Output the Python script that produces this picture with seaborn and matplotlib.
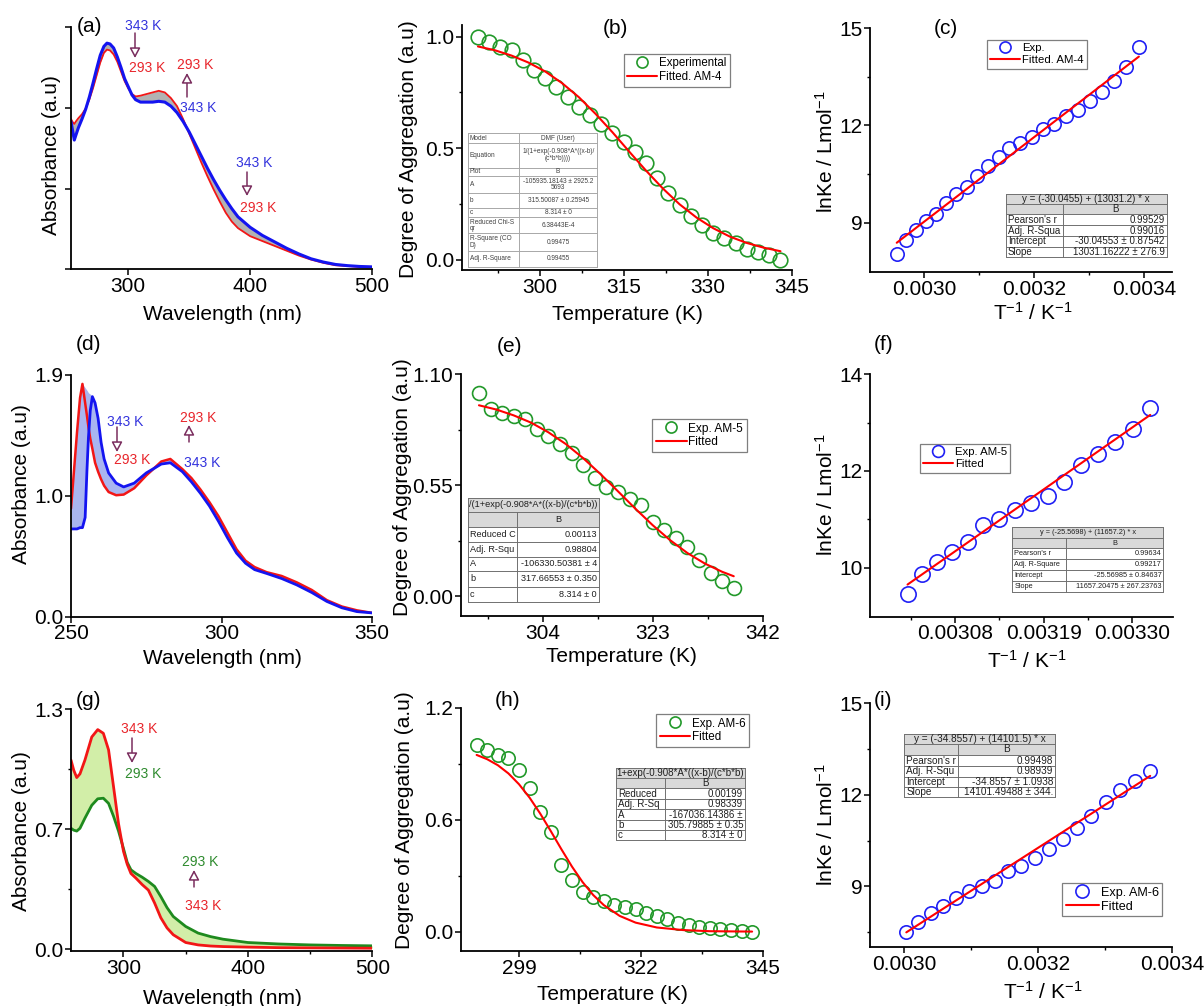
import numpy as np
import matplotlib.pyplot as plt
import seaborn as sns
from matplotlib.patches import Rectangle, FancyArrowPatch
from matplotlib.lines import Line2D

W, H = 1204, 1006

## (a) AM-4 spectra, 293 K (red) and 343 K (blue)
wl_a = [253, 254.5, 255.7, 257, 259, 262, 265, 268, 271, 274, 277, 280, 282.5, 285, 288, 291, 294, 297,
        300, 303, 306, 310, 315, 320, 325, 330, 335, 340, 345, 350, 355, 360, 365, 370, 375, 380, 385, 390,
        400, 410, 420, 430, 440, 450, 460, 470, 480, 490, 500]
abs_a_293 = [1.86, 1.82, 1.80, 1.83, 1.87, 1.92, 1.99, 2.10, 2.24, 2.40, 2.56, 2.68, 2.72, 2.71, 2.66, 2.57, 2.45, 2.33,
             2.24, 2.17, 2.14, 2.15, 2.17, 2.19, 2.21, 2.19, 2.12, 2.02, 1.86, 1.68, 1.50, 1.32, 1.15, 0.99, 0.84, 0.70, 0.59, 0.51,
             0.41, 0.35, 0.29, 0.23, 0.17, 0.12, 0.08, 0.05, 0.04, 0.03, 0.03]
abs_a_343 = [1.83, 1.70, 1.60, 1.66, 1.75, 1.86, 1.98, 2.13, 2.30, 2.48, 2.65, 2.76, 2.80, 2.79, 2.74, 2.63, 2.50, 2.36,
             2.26, 2.16, 2.10, 2.07, 2.07, 2.07, 2.08, 2.07, 2.02, 1.94, 1.83, 1.70, 1.55, 1.40, 1.25, 1.11, 0.98, 0.86, 0.75, 0.65,
             0.52, 0.42, 0.34, 0.26, 0.19, 0.13, 0.09, 0.06, 0.045, 0.035, 0.03]

## (d) AM-5 spectra
wl_d = [250, 251, 252, 253, 253.8, 254.7, 255.3, 255.8, 256.4, 257.1, 258, 259, 260, 261, 262.5, 265, 267.5, 271, 275,
        280, 283, 287, 290, 293, 296, 299, 302, 305, 308, 311, 315, 320, 325, 330, 335, 340, 345, 350]
abs_d_293 = [0.85, 1.15, 1.45, 1.72, 1.83, 1.68, 1.58, 1.49, 1.40, 1.32, 1.21, 1.14, 1.08, 1.03, 0.98, 0.955, 0.96, 1.01, 1.11,
             1.22, 1.24, 1.16, 1.09, 1.00, 0.90, 0.79, 0.66, 0.53, 0.44, 0.39, 0.35, 0.32, 0.27, 0.21, 0.13, 0.08, 0.05, 0.03]
abs_d_343 = [0.69, 0.69, 0.69, 0.70, 0.70, 0.78, 1.15, 1.41, 1.62, 1.73, 1.68, 1.56, 1.37, 1.24, 1.13, 1.05, 1.02, 1.05, 1.13,
             1.20, 1.21, 1.14, 1.06, 0.97, 0.87, 0.75, 0.62, 0.50, 0.42, 0.37, 0.34, 0.30, 0.25, 0.19, 0.12, 0.07, 0.04, 0.03]
# top of the band of intermediate curves between the two peaks
peak_wl_d = [253.8, 254.7, 255.3, 255.8, 256.4, 257.1]
peak_top_d = [1.83, 1.80, 1.78, 1.76, 1.75, 1.73]

## (g) AM-6 spectra, 343 K (red) and 293 K (green)
wl_g = [257.8, 260, 262.4, 265, 269, 274.5, 279.3, 283.8, 288, 292, 296, 300, 303, 306, 310, 315, 320, 325, 330, 335,
        340, 350, 360, 370, 380, 400, 425, 450, 475, 500]
abs_g_343 = [1.025, 0.97, 0.93, 0.95, 1.025, 1.15, 1.19, 1.17, 1.08, 0.88, 0.68, 0.53, 0.46, 0.41, 0.385, 0.35, 0.32, 0.25,
             0.17, 0.115, 0.078, 0.036, 0.023, 0.017, 0.014, 0.011, 0.008, 0.007, 0.006, 0.005]
abs_g_293 = [0.655, 0.645, 0.64, 0.655, 0.71, 0.78, 0.815, 0.818, 0.79, 0.72, 0.64, 0.545, 0.47, 0.43, 0.41, 0.39, 0.367,
             0.34, 0.285, 0.225, 0.177, 0.123, 0.087, 0.068, 0.054, 0.036, 0.028, 0.023, 0.02, 0.018]

## (b) degree of aggregation AM-4
T_b = list(range(289, 344, 2))
alpha_b = [1.0, 0.975, 0.955, 0.94, 0.895, 0.85, 0.815, 0.775, 0.73, 0.685, 0.65, 0.61, 0.57, 0.53, 0.485, 0.435,
           0.365, 0.30, 0.245, 0.195, 0.155, 0.12, 0.10, 0.075, 0.05, 0.035, 0.02, 0.0]
fit_b_T = [289, 292, 295, 298, 301, 304, 307, 310, 313, 316, 319, 322, 325, 328, 331, 334, 337, 340, 343]
fit_b = [0.956, 0.939, 0.915, 0.884, 0.844, 0.792, 0.729, 0.654, 0.572, 0.485, 0.400, 0.320, 0.249, 0.190, 0.142,
         0.104, 0.076, 0.055, 0.039]

## (e) AM-5
T_e = list(range(293, 338, 2))
alpha_e = [1.004, 0.925, 0.905, 0.892, 0.875, 0.826, 0.793, 0.753, 0.707, 0.649, 0.583, 0.542, 0.514, 0.479, 0.451,
           0.368, 0.327, 0.286, 0.241, 0.178, 0.112, 0.076, 0.041]
fit_e_T = [293, 296, 299, 302, 305, 308, 311, 314, 317, 320, 323, 326, 329, 332, 335, 337]
fit_e = [0.945, 0.924, 0.895, 0.859, 0.811, 0.753, 0.683, 0.604, 0.519, 0.433, 0.351, 0.277, 0.213, 0.161, 0.120, 0.098]

## (h) AM-6
T_h = list(range(291, 344, 2))
alpha_h = [1.0, 0.973, 0.946, 0.929, 0.866, 0.768, 0.643, 0.536, 0.357, 0.277, 0.214, 0.188, 0.166, 0.143, 0.134,
           0.120, 0.098, 0.084, 0.066, 0.048, 0.036, 0.027, 0.018, 0.0125, 0.009, 0.005, 0.0]
fit_h_T = [291, 293, 295, 297, 299, 301, 303, 305, 307, 309, 311, 313, 315, 318, 321, 325, 330, 335, 343]
fit_h = [0.947, 0.924, 0.892, 0.848, 0.790, 0.718, 0.633, 0.539, 0.442, 0.349, 0.266, 0.197, 0.143, 0.085, 0.049,
         0.023, 0.009, 0.003, 0.001]

## (c), (f), (i) van't Hoff plots, x = 1/T
T_c = list(range(339, 294, -2))
lnK_c = [8.03, 8.47, 8.79, 9.05, 9.27, 9.60, 9.88, 10.11, 10.45, 10.76, 11.04, 11.30, 11.45, 11.65, 11.88, 12.03,
         12.29, 12.49, 12.75, 13.03, 13.36, 13.79, 14.40]
fit_c_T = [339, 295]
fit_c = [8.39, 14.12]

T_f = list(range(331, 300, -2))
lnK_f = [9.455, 9.862, 10.124, 10.331, 10.538, 10.883, 11.0, 11.193, 11.345, 11.483, 11.779, 12.124, 12.352, 12.593,
         12.876, 13.297]
fit_f_T = [331, 301]
fit_f = [9.65, 13.16]

T_i = list(range(333, 296, -2))
lnK_i = [7.486, 7.815, 8.12, 8.36, 8.62, 8.86, 9.02, 9.19, 9.49, 9.66, 9.93, 10.23, 10.56, 10.92, 11.30, 11.76,
         12.15, 12.46, 12.78]
fit_i_T = [333, 297]
fit_i = [7.49, 12.62]

## fit report tables
tab_b = [("Model", "DMF (User)"), ("Equation", "1/(1+exp(-0.908*A*((x-b)/\n(c*b*b))))"), ("Plot", "B"),
         ("A", "-105935.18143 ± 2925.2\n5693"), ("b", "315.50087 ± 0.25945"), ("c", "8.314 ± 0"),
         ("Reduced Chi-S\nqr", "6.38443E-4"), ("R-Square (CO\nD)", "0.99475"), ("Adj. R-Square", "0.99455")]
tab_c = ["y = (-30.0455) + (13031.2) * x", ("", "B"), ("Pearson's r", "0.99529"), ("Adj. R-Squa", "0.99016"),
         ("Intercept", "-30.04553 ± 0.87542"), ("Slope", "13031.16222 ± 276.9")]
tab_e = ["/(1+exp(-0.908*A*((x-b)/(c*b*b))", ("", "B"), ("Reduced C", "0.00113"), ("Adj. R-Squ", "0.98804"),
         ("A", "-106330.50381 ± 4"), ("b", "317.66553 ± 0.350"), ("c", "8.314 ± 0")]
tab_f = ["y = (-25.5698) + (11657.2) * x", ("", "B"), ("Pearson's r", "0.99634"), ("Adj. R-Square", "0.99217"),
         ("Intercept", "-25.56985 ± 0.84637"), ("Slope", "11657.20475 ± 267.23763")]
tab_h = ["1+exp(-0.908*A*((x-b)/(c*b*b)", ("", "B"), ("Reduced", "0.00199"), ("Adj. R-Sq", "0.98339"),
         ("A", "-167036.14386 ±"), ("b", "305.79885 ± 0.35"), ("c", "8.314 ± 0")]
tab_i = ["y = (-34.8557) + (14101.5) * x", ("", "B"), ("Pearson's r", "0.99498"), ("Adj. R-Squ", "0.98939"),
         ("Intercept", "-34.8557 ± 1.0938"), ("Slope", "14101.49488 ± 344.")]

BLUE = "#1414f0"
RED = "#f21616"
GREEN_LINE = "#1e8a1e"
CIRC_GREEN = "#22992a"
CIRC_BLUE = "#2020f5"
ARROW = "#7a2d5e"
TXT_BLUE = "#3333dd"
TXT_RED = "#e8252b"
TXT_GREEN = "#2e8b2e"

sns.set_theme(style="ticks")
plt.rcParams["font.family"] = ["Liberation Sans", "DejaVu Sans"]
plt.rcParams["mathtext.fontset"] = "custom"
plt.rcParams["mathtext.rm"] = "Liberation Sans"
plt.rcParams["mathtext.default"] = "rm"
for k in ["axes.edgecolor", "axes.labelcolor", "xtick.color", "ytick.color", "text.color"]:
    plt.rcParams[k] = "black"

fig = plt.figure(figsize=(W / 100, H / 100), dpi=100)


def fx(x):
    return x / W


def fy(y):
    return 1 - y / H


def add_panel(box):
    x0, y0, x1, y1 = box
    ax = fig.add_axes([x0 / W, 1 - y1 / H, (x1 - x0) / W, (y1 - y0) / H])
    ax.patch.set_alpha(0)
    return ax


def finish(ax, box, xlim, ylim, xl, xpos, yl, ypos):
    x0, y0, x1, y1 = box
    ax.set_xlim(xlim)
    ax.set_ylim(ylim)
    sns.despine(ax=ax)
    for s in ["left", "bottom"]:
        ax.spines[s].set_linewidth(1.3)
    ax.tick_params(which="major", direction="out", length=4, width=1.1, labelsize=15, pad=1.5)
    ax.tick_params(which="minor", direction="out", length=2.5, width=1.0)
    ax.set_xlabel(xl, fontsize=15)
    ax.set_ylabel(yl, fontsize=15)
    ax.xaxis.set_label_coords((xpos[0] - x0) / (x1 - x0), (y1 - xpos[1]) / (y1 - y0))
    ax.xaxis.label.set_va("center")
    ax.yaxis.set_label_coords((ypos[0] - x0) / (x1 - x0), (y1 - ypos[1]) / (y1 - y0))
    ax.yaxis.label.set_va("center")
    ax.yaxis.label.set_ha("center")


def add_legend(ax, labels, pos, fs, ms):
    handles = ax.lines[:2]
    leg = ax.legend(handles, labels, loc="upper left", bbox_to_anchor=(fx(pos[0]), fy(pos[1])),
                    bbox_transform=fig.transFigure, fontsize=fs, frameon=True, fancybox=False,
                    framealpha=1, edgecolor="#7f7f7f", borderpad=0.3, borderaxespad=0,
                    handlelength=2.6, handletextpad=0.15, labelspacing=0.15, numpoints=1)
    leg.get_frame().set_linewidth(0.9)
    leg.legend_handles[0].set_markersize(ms)


def panel_label(s, x, y):
    fig.text(fx(x), fy(y), s, fontsize=15, ha="center", va="center")


def note(x, y, s, col):
    fig.text(fx(x), fy(y), s, fontsize=10, color=col, ha="center", va="center")


def arrow(x, ya, yb):
    fig.add_artist(FancyArrowPatch((fx(x), fy(ya)), (fx(x), fy(yb)), transform=fig.transFigure,
                                   arrowstyle="-|>,head_length=0.6,head_width=0.32", mutation_scale=10,
                                   fc="white", ec=ARROW, lw=1.1, shrinkA=0, shrinkB=0))


def fline(xs, ys, col, lw):
    fig.add_artist(Line2D([fx(v) for v in xs], [fy(v) for v in ys], transform=fig.transFigure,
                          color=col, lw=lw))


def draw_table(box, split, rows_y, cells, fs, shade=(), line_col="#707070", right="right", tcol="#202020"):
    x0, y0, x1, y1 = box
    fig.add_artist(Rectangle((fx(x0), fy(y1)), (x1 - x0) / W, (y1 - y0) / H, transform=fig.transFigure,
                             fc="white", ec="none"))
    for i in shade:
        fig.add_artist(Rectangle((fx(x0), fy(rows_y[i + 1])), (x1 - x0) / W, (rows_y[i + 1] - rows_y[i]) / H,
                                 transform=fig.transFigure, fc="#d9d9d9", ec="none"))
    for yv in rows_y:
        fline([x0, x1], [yv, yv], line_col, 0.7)
    fline([x0, x0], [y0, y1], line_col, 0.7)
    fline([x1, x1], [y0, y1], line_col, 0.7)
    for i, c in enumerate(cells):
        ya, yb = rows_y[i], rows_y[i + 1]
        ym = fy((ya + yb) / 2)
        if isinstance(c, str):
            fig.text(fx((x0 + x1) / 2), ym, c, fontsize=fs, ha="center", va="center", color=tcol)
            continue
        fline([split, split], [ya, yb], line_col, 0.7)
        fig.text(fx(x0 + 2), ym, c[0], fontsize=fs, ha="left", va="center", color=tcol, linespacing=0.9)
        if c[1] == "B" or right == "center":
            fig.text(fx((split + x1) / 2), ym, c[1], fontsize=fs, ha="center", va="center", color=tcol,
                     linespacing=0.9)
        else:
            fig.text(fx(x1 - 2), ym, c[1], fontsize=fs, ha="right", va="center", color=tcol, linespacing=0.9)


ylab_abs = "Absorbance (a.u)"
ylab_dag = "Degree of Aggregation (a.u)"
ylab_k = r"lnKe / Lmol$^{-1}$"
xlab_wl = "Wavelength (nm)"
xlab_T = "Temperature (K)"
xlab_inv = r"T$^{-1}$ / K$^{-1}$"

# ---------------- (a) ----------------
box = (71, 27, 372, 269.3)
ax = add_panel(box)
ra, ba = np.array(abs_a_293), np.array(abs_a_343)
ax.fill_between(wl_a, np.minimum(ra, ba), np.maximum(ra, ba), color="#b2b2b2", lw=0)
sns.lineplot(x=wl_a, y=abs_a_293, ax=ax, color=RED, lw=1.3, errorbar=None)
sns.lineplot(x=wl_a, y=abs_a_343, ax=ax, color=BLUE, lw=2.2, errorbar=None)
ax.set_xticks([300, 400, 500])
ax.set_yticks([0, 1, 2, 3], ["", "", "", ""])
finish(ax, box, (253, 500), (0, 3), xlab_wl, (222, 315), ylab_abs, (52, 155))
panel_label("(a)", 90, 27)
note(143, 26, "343 K", TXT_BLUE)
note(147, 68, "293 K", TXT_RED)
note(195, 65, "293 K", TXT_RED)
note(198, 108, "343 K", TXT_BLUE)
note(254, 163, "343 K", TXT_BLUE)
note(258, 208, "293 K", TXT_RED)
arrow(135, 33, 58)
arrow(187, 97, 73)
arrow(247, 172, 196)

# ---------------- (d) ----------------
box = (71, 375, 372, 616.7)
ax = add_panel(box)
rd, bd = np.array(abs_d_293), np.array(abs_d_343)
top_d = np.maximum(rd, bd)
for w, v in zip(peak_wl_d, peak_top_d):
    idx = wl_d.index(w)
    top_d[idx] = max(top_d[idx], v)
ax.fill_between(wl_d, np.minimum(rd, bd), top_d, color="#a9b5f0", lw=0)
sns.lineplot(x=wl_d, y=abs_d_293, ax=ax, color=RED, lw=1.8, errorbar=None)
sns.lineplot(x=wl_d, y=abs_d_343, ax=ax, color=BLUE, lw=2.0, errorbar=None)
ax.set_xticks([250, 300, 350])
ax.set_yticks([0, 0.95, 1.9], ["0.0", "1.0", "1.9"])
finish(ax, box, (250, 350), (0, 1.9), xlab_wl, (222, 659), ylab_abs, (22, 484))
panel_label("(d)", 88, 345)
note(125, 422, "343 K", TXT_BLUE)
note(132, 460, "293 K", TXT_RED)
note(198, 418, "293 K", TXT_RED)
note(202, 463, "343 K", TXT_BLUE)
arrow(117, 427, 452)
arrow(189, 442, 425)

# ---------------- (g) ----------------
box = (71, 709.3, 372.3, 951)
ax = add_panel(box)
rg, gg = np.array(abs_g_343), np.array(abs_g_293)
ax.fill_between(wl_g, np.minimum(rg, gg), np.maximum(rg, gg), color="#d2eea8", lw=0)
sns.lineplot(x=wl_g, y=abs_g_293, ax=ax, color=GREEN_LINE, lw=2.0, errorbar=None)
sns.lineplot(x=wl_g, y=abs_g_343, ax=ax, color=RED, lw=2.0, errorbar=None)
ax.set_xticks([300, 400, 500])
ax.set_xticks([350, 450], minor=True)
ax.set_yticks([0, 0.65, 1.3], ["0.0", "0.7", "1.3"])
ax.set_yticks([0.325, 0.975], minor=True)
finish(ax, box, (257.8, 500), (-0.01, 1.3), xlab_wl, (222, 998), ylab_abs, (22, 831))
panel_label("(g)", 88, 701)
note(139, 729, "343 K", TXT_RED)
note(143, 774, "293 K", TXT_GREEN)
note(200, 862, "293 K", TXT_GREEN)
note(203, 906, "343 K", TXT_RED)
arrow(132, 738, 763)
arrow(194, 887, 870)


# ---------------- aggregation panels ----------------
def aggregation(box, T, a, fT, fv, ms):
    ax = add_panel(box)
    sns.lineplot(x=np.array(T), y=a, ax=ax, marker="o", linestyle="", markersize=ms,
                 markerfacecolor="none", markeredgecolor=CIRC_GREEN, markeredgewidth=1.2,
                 color=CIRC_GREEN, errorbar=None)
    sns.lineplot(x=np.array(fT), y=fv, ax=ax, color="#ff0000", lw=1.5, errorbar=None)
    return ax


box = (461.7, 25, 791.7, 270)
ax = aggregation(box, T_b, alpha_b, fit_b_T, fit_b, 10.5)
ax.set_xticks([300, 315, 330, 345])
ax.set_xticks([292.5, 307.5, 322.5, 337.5], minor=True)
ax.set_yticks([0, 0.5, 1.0], ["0.0", "0.5", "1.0"])
ax.set_yticks([0.25, 0.75], minor=True)
finish(ax, box, (286.1, 345), (-0.045, 1.052), xlab_T, (627, 315), ylab_dag, (409, 149))
add_legend(ax, ["Experimental", "Fitted. AM-4"], (624, 54), 8.3, 8)
panel_label("(b)", 615, 28)
draw_table((468, 133.3, 597, 266.7), 519.3,
           [133.3, 142.7, 167.7, 176, 192.7, 208.3, 217.3, 233.3, 250.7, 266.7],
           tab_b, 4.7, line_col="#a8a8a8", right="center", tcol="#404040")

box = (461, 374, 762.7, 616)
ax = aggregation(box, T_e, alpha_e, fit_e_T, fit_e, 10)
ax.set_xticks([304, 323, 342])
ax.set_xticks([294.5, 313.5, 332.5], minor=True)
ax.set_yticks([0, 0.55, 1.10], ["0.00", "0.55", "1.10"])
ax.set_yticks([0.275, 0.825], minor=True)
finish(ax, box, (289.9, 342), (-0.099, 1.10), xlab_T, (621, 657), ylab_dag, (402, 487))
add_legend(ax, ["Exp. AM-5", "Fitted"], (652, 419), 8.6, 8)
panel_label("(e)", 509, 346)
draw_table((468, 497.7, 599, 601.7), 517.3, [497.7, 511.7, 526.7, 542.3, 556.7, 571, 586.7, 601.7],
           tab_e, 6.6, shade=(0, 1))

box = (461, 707.7, 762.7, 951)
ax = aggregation(box, T_h, alpha_h, fit_h_T, fit_h, 9.6)
ax.set_xticks([299, 322, 345])
ax.set_xticks([310.5, 333.5], minor=True)
ax.set_yticks([0, 0.6, 1.2], ["0.0", "0.6", "1.2"])
ax.set_yticks([0.3, 0.9], minor=True)
finish(ax, box, (288.05, 345), (-0.103, 1.2), xlab_T, (612, 994), ylab_dag, (405, 820))
add_legend(ax, ["Exp. AM-6", "Fitted"], (656, 714), 8.4, 8)
panel_label("(h)", 508, 701)
draw_table((616, 768.3, 745, 840), 665, [768.3, 778.3, 788.3, 799, 809.3, 820, 830, 840],
           tab_h, 7, shade=(0, 1))


# ---------------- van't Hoff panels ----------------
def vanthoff(box, T, k, fT, fv, ms):
    ax = add_panel(box)
    sns.lineplot(x=1 / np.array(T, dtype=float), y=k, ax=ax, marker="o", linestyle="", markersize=ms,
                 markerfacecolor="none", markeredgecolor=CIRC_BLUE, markeredgewidth=1.2,
                 color=CIRC_BLUE, errorbar=None)
    sns.lineplot(x=1 / np.array(fT, dtype=float), y=fv, ax=ax, color="#ff0000", lw=1.5, errorbar=None)
    return ax


box = (870, 28, 1172, 272)
ax = vanthoff(box, T_c, lnK_c, fit_c_T, fit_c, 9.6)
ax.set_xticks([0.0030, 0.0032, 0.0034], ["0.0030", "0.0032", "0.0034"])
ax.set_xticks([0.0031, 0.0033], minor=True)
ax.set_yticks([9, 12, 15])
ax.set_yticks([10.5, 13.5], minor=True)
finish(ax, box, (0.0029013, 0.00345), (7.49, 15), xlab_inv, (1033, 313), ylab_k, (826, 152))
add_legend(ax, ["Exp.", "Fitted. AM-4"], (987, 40), 8.2, 8)
panel_label("(c)", 946, 28)
draw_table((1005.7, 194.3, 1166.7, 256.7), 1063.3, [194.3, 204, 214.3, 225, 236, 246.7, 256.7],
           tab_c, 7, shade=(0, 1))

box = (870, 374.3, 1172.7, 616.7)
ax = vanthoff(box, T_f, lnK_f, fit_f_T, fit_f, 11)
ax.set_xticks([0.00308, 0.00319, 0.00330], ["0.00308", "0.00319", "0.00330"])
ax.set_xticks([0.003025, 0.003135, 0.003245], minor=True)
ax.set_yticks([10, 12, 14])
ax.set_yticks([11, 13], minor=True)
finish(ax, box, (0.0029746, 0.0033501), (8.985, 14), xlab_inv, (1027, 661), ylab_k, (826, 495))
add_legend(ax, ["Exp. AM-5", "Fitted"], (920, 444), 8.2, 8.5)
panel_label("(f)", 884, 345)
draw_table((1012.3, 527.3, 1163.3, 591.7), 1065.7, [527.3, 538.3, 548.3, 559.3, 570, 580.7, 591.7],
           tab_f, 5.3, shade=(0, 1))

box = (870, 703.3, 1172.3, 947.3)
ax = vanthoff(box, T_i, lnK_i, fit_i_T, fit_i, 9.6)
ax.set_xticks([0.0030, 0.0032, 0.0034], ["0.0030", "0.0032", "0.0034"])
ax.set_xticks([0.0031, 0.0033], minor=True)
ax.set_yticks([9, 12, 15])
ax.set_yticks([7.5, 10.5, 13.5], minor=True)
finish(ax, box, (0.0029488, 0.0034), (7.0, 15), xlab_inv, (1043, 992), ylab_k, (826, 825))
add_legend(ax, ["Exp. AM-6", "Fitted"], (1062, 883), 9.1, 9.5)
panel_label("(i)", 883, 701)
draw_table((904.3, 734, 1055, 797.3), 958.3, [734, 744, 755, 766, 776.7, 787.3, 797.3],
           tab_i, 7.2, shade=(0, 1))

fig.savefig("out.png", dpi=100)
